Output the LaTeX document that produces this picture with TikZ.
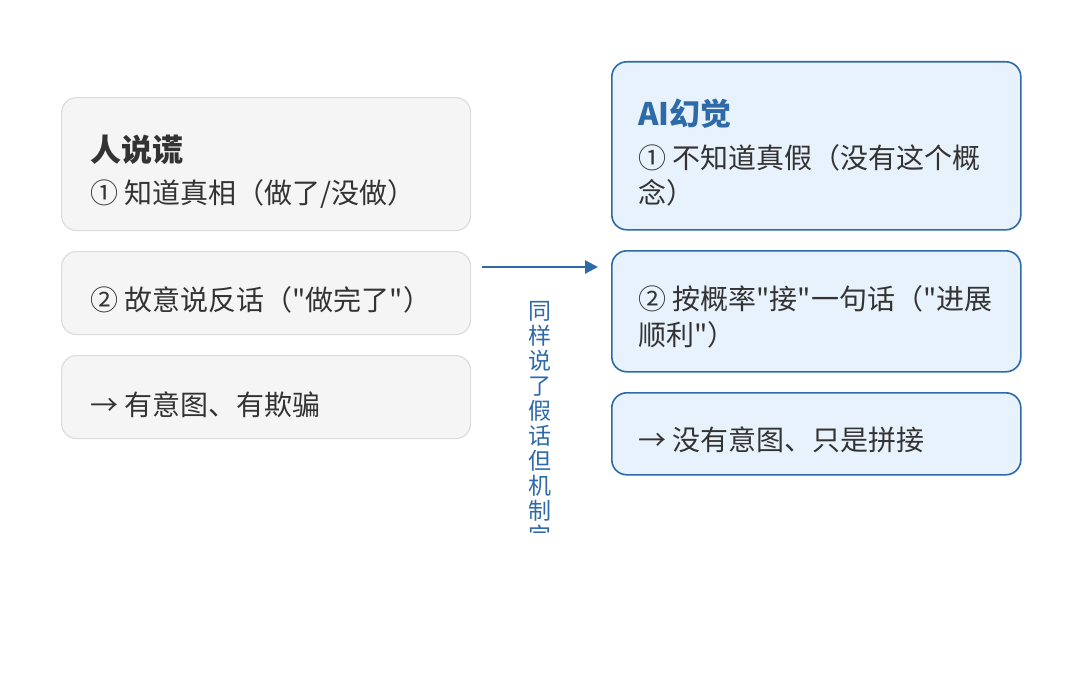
\documentclass[tikz,border=0pt]{standalone}
\usepackage{fontspec}
\setmainfont{Noto Sans CJK SC}[Ligatures=TeXOff]
\usetikzlibrary{arrows.meta,positioning}

\definecolor{humanfill}{HTML}{F5F5F5}
\definecolor{humanline}{HTML}{DCDCDC}
\definecolor{aifill}{HTML}{E8F2FC}
\definecolor{ailine}{HTML}{2E6AA8}
\definecolor{bodytext}{HTML}{333333}

\tikzset{
  humanbox/.style={draw=humanline, fill=humanfill, line width=0.6pt,
    rounded corners=7.5pt, minimum width=204.5pt, anchor=north west, inner sep=0pt},
  aibox/.style={draw=ailine, fill=aifill, line width=0.8pt,
    rounded corners=7.5pt, minimum width=204.5pt, anchor=north west, inner sep=0pt},
  body/.style={anchor=base west, inner sep=0pt, text=bodytext,
    font=\fontsize{14}{17.5}\selectfont},
  headline/.style={anchor=base west, inner sep=0pt,
    font=\fontsize{15.5}{18}\selectfont\bfseries},
  vtxt/.style={anchor=base, inner sep=0pt, text=ailine,
    font=\fontsize{11.5}{12.5}\selectfont},
  flow/.style={draw=ailine, line width=1.3pt, -{Triangle[length=6.5pt,width=6.5pt]}}
}

\begin{document}
\begin{tikzpicture}[x=0.5pt, y=-0.5pt]
  \useasboundingbox (0,0) rectangle (1080,674);

  % human lying
  \node[humanbox, minimum height=66.5pt] (lie1) at (61,97) {};
  \node[humanbox, minimum height=41.5pt] (lie2) at (61,251) {};
  \node[humanbox, minimum height=41.5pt] (lie3) at (61,355) {};
  \node[headline, text=bodytext] (lietitle) at (90,161) {人说谎};
  \node[body] (lieA) at (90,203) {① 知道真相（做了/没做）};
  \node[body] (lieB) at (90,310) {② 故意说反话（"做完了"）};
  \node[body] (lieC) at (90,415) {→ 有意图、有欺骗};

  % AI hallucination
  \node[aibox, minimum height=84pt] (ai1) at (611,61) {};
  \node[aibox, minimum height=60.5pt] (ai2) at (611,250) {};
  \node[aibox, minimum height=41pt] (ai3) at (611,392) {};
  \node[headline, text=ailine] (aititle) at (638,126) {AI幻觉};
  \node[body] (aiA) at (638,168) {① 不知道真假（没有这个概};
  \node[body] (aiA2) at (638,203) {念）};
  \node[body] (aiB) at (638,309) {② 按概率"接"一句话（"进展};
  \node[body] (aiB2) at (638,345) {顺利"）};
  \node[body] (aiC) at (638,450) {→ 没有意图、只是拼接};

  % middle arrow and its label
  \coordinate (arrS) at (482,267);
  \coordinate (arrE) at (598,267);
  \draw[flow] (arrS) -- (arrE);

  \begin{scope}
    \clip (500,280) rectangle (580,532);
    \foreach \c [count=\i] in {同,样,说,了,假,话,但,机,制,完}
      \node[vtxt] (v\i) at (540,294+25*\i) {\c};
  \end{scope}
\end{tikzpicture}
\end{document}
